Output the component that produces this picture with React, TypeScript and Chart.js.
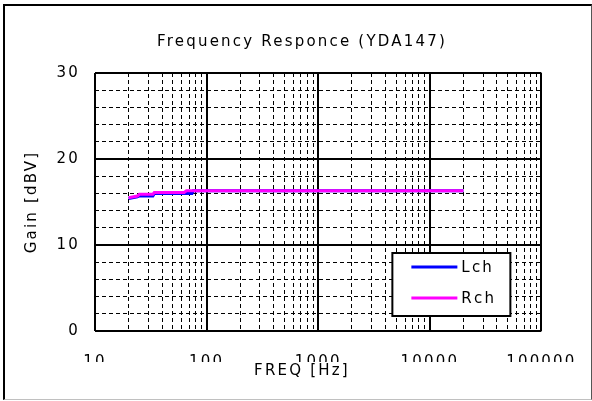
import React, { useEffect, useRef } from 'react';
import { Chart, registerables } from 'chart.js';

Chart.register(...registerables);

const FONT = "'DejaVu Sans', sans-serif";

const titleText = 'Frequency Responce (YDA147)';
const xTitle = 'FREQ [Hz]';
const yTitle = 'Gain [dBV]';

const seriesNames = ['Lch', 'Rch'];
const seriesColors = ['#0000ff', '#ff00ff'];

const freqL = [20, 24, 25, 33, 34, 74, 76, 100, 1000, 10000, 20000];
const gainL = [15.4, 15.6, 15.7, 15.7, 16.0, 16.0, 16.3, 16.3, 16.3, 16.3, 16.3];

const freqR = [20, 24, 25, 33, 34, 63, 66, 100, 1000, 10000, 20000];
const gainR = [15.5, 15.7, 15.9, 15.9, 16.1, 16.1, 16.3, 16.3, 16.3, 16.3, 16.3];

const xMajorTicks = [10, 100, 1000, 10000, 100000];
const xMinorMultipliers = [2, 3, 4, 5, 6, 7, 8, 9];
const xDecades = [10, 100, 1000, 10000];
const yMajorTicks = [0, 10, 20, 30];
const yMinorTicks = [2, 4, 6, 8, 12, 14, 16, 18, 22, 24, 26, 28];

const legendPlugin = {
  id: 'boxLegend',
  beforeDraw(chart: any) {
    chart.ctx.letterSpacing = '2.2px';
  },
  afterDraw(chart: any) {
    const ctx = chart.ctx;
    const a = chart.chartArea;
    const bx = a.right - 149;
    const by = a.bottom - 78;
    const bw = 118;
    const bh = 63;
    ctx.save();
    ctx.fillStyle = '#ffffff';
    ctx.fillRect(bx, by, bw, bh);
    ctx.lineWidth = 2;
    ctx.strokeStyle = '#000000';
    ctx.strokeRect(bx, by, bw, bh);
    chart.data.datasets.forEach((ds: any, i: number) => {
      const ly = by + 14 + i * 31;
      ctx.strokeStyle = ds.borderColor;
      ctx.lineWidth = 3;
      ctx.beginPath();
      ctx.moveTo(bx + 19, ly);
      ctx.lineTo(bx + 65, ly);
      ctx.stroke();
      ctx.fillStyle = '#000000';
      ctx.font = `15px ${FONT}`;
      ctx.textAlign = 'left';
      ctx.textBaseline = 'middle';
      ctx.fillText(ds.label, bx + 69, ly + 1);
    });
    ctx.restore();
    ctx.letterSpacing = '0px';
  },
};

export default function App() {
  const ref = useRef<HTMLCanvasElement>(null);

  useEffect(() => {
    const canvas = ref.current;
    if (!canvas) return;
    const tickFont = { family: FONT, size: 15, weight: 'normal' as const };
    const chart = new Chart(canvas, {
      type: 'line',
      data: {
        datasets: [
          {
            label: seriesNames[0],
            data: freqL.map((f, i) => ({ x: f, y: gainL[i] })),
            borderColor: seriesColors[0],
            backgroundColor: seriesColors[0],
            borderWidth: 3,
            pointRadius: 0,
            order: 1,
            xAxisID: 'x',
            yAxisID: 'y',
          },
          {
            label: seriesNames[1],
            data: freqR.map((f, i) => ({ x: f, y: gainR[i] })),
            borderColor: seriesColors[1],
            backgroundColor: seriesColors[1],
            borderWidth: 3,
            pointRadius: 0,
            order: 0,
            xAxisID: 'x',
            yAxisID: 'y',
          },
        ],
      },
      options: {
        responsive: false,
        animation: false,
        devicePixelRatio: 1,
        layout: { autoPadding: false, padding: { left: 12, right: 0, top: 0, bottom: 0 } },
        plugins: {
          legend: { display: false },
          tooltip: { enabled: false },
          title: {
            display: true,
            text: titleText,
            color: '#000000',
            font: { family: FONT, size: 15, weight: 'normal' },
            padding: { top: 33, bottom: 22 },
          },
          subtitle: {
            display: true,
            position: 'bottom',
            text: xTitle,
            color: '#000000',
            font: { family: FONT, size: 15, weight: 'normal' },
            padding: { top: 0, bottom: 21 },
          },
        },
        elements: { line: { tension: 0 } },
        scales: {
          x: {
            type: 'logarithmic',
            axis: 'x',
            position: 'bottom',
            min: 10,
            max: 100000,
            afterBuildTicks: (s: any) => {
              s.ticks = xMajorTicks.map((v) => ({ value: v }));
            },
            afterFit: (s: any) => {
              s.height = 31;
            },
            ticks: {
              autoSkip: false,
              maxRotation: 0,
              minRotation: 0,
              padding: 22,
              color: '#000000',
              font: tickFont,
              callback: (v: any) => String(v),
            },
            grid: { color: '#000000', lineWidth: 2, drawTicks: false },
            border: { display: false },
          },
          xMinor: {
            type: 'logarithmic',
            axis: 'x',
            position: 'bottom',
            min: 10,
            max: 100000,
            afterBuildTicks: (s: any) => {
              const t: any[] = [];
              xDecades.forEach((d) => xMinorMultipliers.forEach((m) => t.push({ value: d * m })));
              s.ticks = t;
            },
            afterFit: (s: any) => {
              s.height = 0;
            },
            ticks: { display: false },
            grid: { color: '#000000', lineWidth: 1, drawTicks: false },
            border: { display: false, dash: [4, 3] },
          },
          y: {
            type: 'linear',
            axis: 'y',
            position: 'left',
            min: 0,
            max: 30,
            afterBuildTicks: (s: any) => {
              s.ticks = yMajorTicks.map((v) => ({ value: v }));
            },
            afterFit: (s: any) => {
              s.width = 83;
            },
            ticks: {
              padding: 15,
              color: '#000000',
              font: tickFont,
              callback: (v: any) => String(v),
            },
            grid: { color: '#000000', lineWidth: 2, drawTicks: false },
            border: { display: false },
            title: {
              display: true,
              text: yTitle,
              color: '#000000',
              font: { family: FONT, size: 15, weight: 'normal' },
              padding: { top: 11, bottom: 0 },
            },
          },
          yMinor: {
            type: 'linear',
            axis: 'y',
            position: 'left',
            min: 0,
            max: 30,
            afterBuildTicks: (s: any) => {
              s.ticks = yMinorTicks.map((v) => ({ value: v }));
            },
            afterFit: (s: any) => {
              s.width = 0;
            },
            ticks: { display: false },
            grid: { color: '#000000', lineWidth: 1, drawTicks: false },
            border: { display: false, dash: [4, 3] },
          },
          yRight: {
            type: 'linear',
            axis: 'y',
            position: 'right',
            min: 0,
            max: 30,
            afterFit: (s: any) => {
              s.width = 47;
            },
            ticks: { display: false },
            grid: { display: false, drawTicks: false },
            border: { display: false },
          },
        },
      } as any,
      plugins: [legendPlugin],
    });
    return () => chart.destroy();
  }, []);

  return (
    <div style={{ position: 'absolute', left: 0, top: 0, width: 592, height: 401, background: '#ffffff' }}>
      <canvas ref={ref} width={592} height={401} style={{ display: 'block', width: 592, height: 401 }} />
      <div
        style={{
          position: 'absolute',
          left: 3,
          top: 4,
          width: 589,
          height: 396,
          boxSizing: 'border-box',
          borderLeft: '2px solid #000000',
          borderTop: '2px solid #000000',
          borderRight: '1px solid #555555',
          borderBottom: '1px solid #c0c0c0',
          pointerEvents: 'none',
        }}
      />
    </div>
  );
}
